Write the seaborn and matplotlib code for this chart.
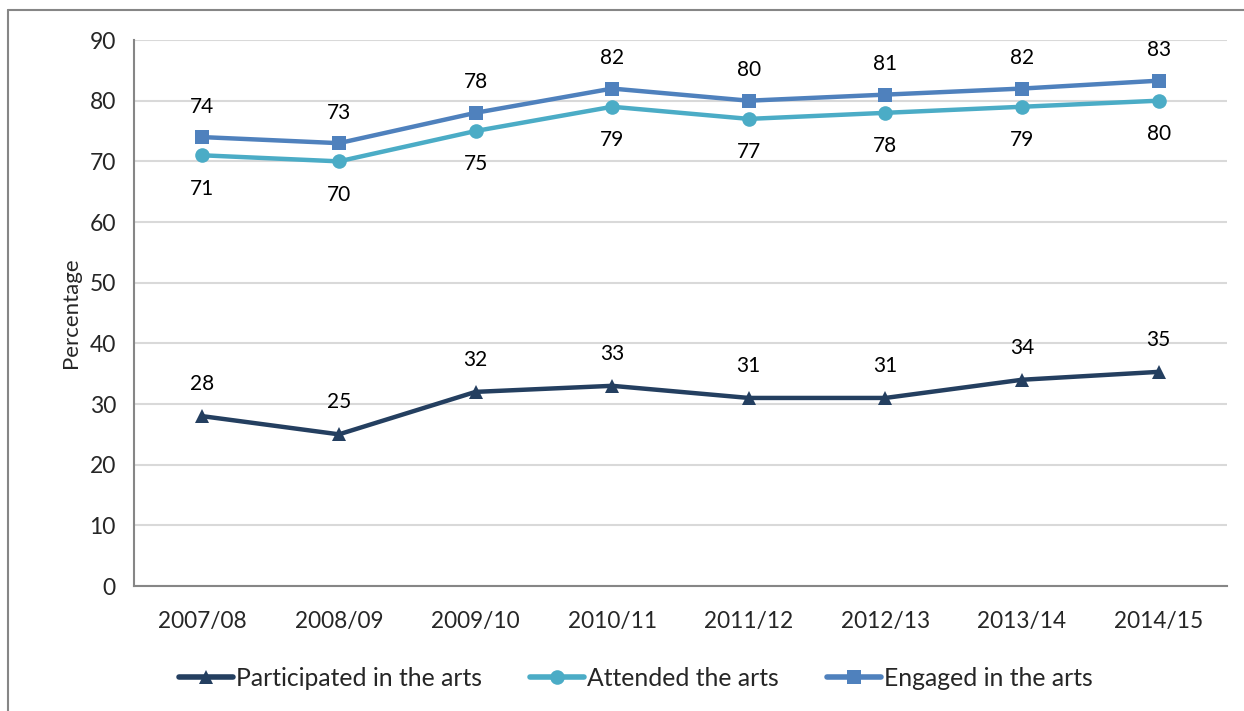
import pandas as pd
import numpy as np
import matplotlib.pyplot as plt
import seaborn as sns
from matplotlib.lines import Line2D

years = ["2007/08", "2008/09", "2009/10", "2010/11", "2011/12", "2012/13", "2013/14", "2014/15"]
participated = [28, 25, 32, 33, 31, 31, 34, 35.3]
attended = [71, 70, 75, 79, 77, 78, 79, 80]
engaged = [74, 73, 78, 82, 80, 81, 82, 83.3]

series_names = ["Participated in the arts", "Attended the arts", "Engaged in the arts"]
colors = ["#243F60", "#4BACC6", "#4F81BD"]
markers = ["^", "o", "s"]

data = pd.DataFrame({
    "Year": years * 3,
    "Percentage": participated + attended + engaged,
    "Series": np.repeat(series_names, len(years)),
})

sns.set_style("white")
plt.rcParams['font.family'] = ['Lato', 'DejaVu Sans']

fig = plt.figure(figsize=(12.44, 7.11), dpi=100)
ax = fig.add_axes([0.1077, 0.1758, 0.8786, 0.7679])

for name, color, marker in zip(series_names, colors, markers):
    sub = data[data["Series"] == name]
    sns.lineplot(data=sub, x="Year", y="Percentage", ax=ax, color=color, marker=marker,
                 markersize=10.5, markeredgewidth=0, linewidth=3.2, label=name, sort=False)

# data labels
offsets = {"Participated in the arts": 23, "Attended the arts": -24, "Engaged in the arts": 22}
for name in series_names:
    sub = data[data["Series"] == name].reset_index(drop=True)
    for i, v in enumerate(sub["Percentage"]):
        ax.annotate(f"{v:.0f}", (i, v), xytext=(0, offsets[name]), textcoords="offset points",
                    ha="center", va="center", fontsize=15, color="black")

ax.set_xlim(-0.5, len(years) - 0.5)
ax.set_ylim(0, 90)
ax.set_yticks(range(0, 91, 10))
ax.yaxis.grid(True, color="#D9D9D9", linewidth=1.5)
ax.set_axisbelow(True)

ax.set_xticks(range(len(years)))
ax.set_xticklabels(years, fontsize=16.3)
ax.tick_params(axis="x", length=0, pad=18)
ax.set_xticks(np.arange(-0.5, len(years)), minor=True)
ax.tick_params(axis="x", which="minor", length=7, width=1.5, color="#868686", direction="out")
ax.tick_params(axis="y", labelsize=16.5, length=7, width=1.5, color="#868686", direction="out", pad=6)

for s in ["top", "right"]:
    ax.spines[s].set_visible(False)
for s in ["left", "bottom"]:
    ax.spines[s].set_color("#868686")
    ax.spines[s].set_linewidth(1.5)

ax.set_xlabel("")
ax.set_ylabel("Percentage", fontsize=16, labelpad=6)

leg = ax.legend(loc="upper center", bbox_to_anchor=(0.459, -0.107), ncol=3, frameon=False,
                fontsize=17.8, handlelength=2.2, handletextpad=0.1, columnspacing=1.95)
for h in leg.get_lines():
    h.set_linewidth(4)

# outer chart frame (left and top edges visible)
fig.add_artist(Line2D([0.0065, 0.0065], [0, 0.986], transform=fig.transFigure, color="#868686", linewidth=1.5))
fig.add_artist(Line2D([0.0065, 1.0], [0.986, 0.986], transform=fig.transFigure, color="#868686", linewidth=1.5))

fig.savefig("out.png", dpi=100)
